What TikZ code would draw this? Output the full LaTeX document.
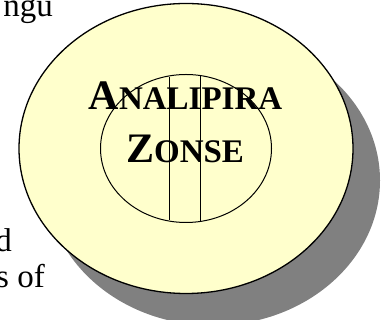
\documentclass[tikz,border=0pt]{standalone}
\usepackage{fontspec}
\setmainfont{Liberation Serif}
\usepackage{tikz}
\usetikzlibrary{calc}
\usepackage{xcolor}
\definecolor{zonefill}{RGB}{255,255,204}
\definecolor{zoneshadow}{RGB}{128,128,128}
\newcommand{\zonesc}[2]{{\fontsize{42}{42}\selectfont #1}{\fontsize{33}{33}\selectfont #2}}
\tikzset{
  outerzone/.style={draw=black,fill=zonefill,line width=1.3pt},
  innerzone/.style={draw=black,line width=1pt},
  zoneshade/.style={fill=zoneshadow},
  chord/.style={draw=black,line width=1pt},
  zonetitle/.style={anchor=base,inner sep=0pt,font=\bfseries},
  pagetext/.style={anchor=base east,inner sep=0pt,font=\fontsize{33}{36}\selectfont}
}
\begin{document}
\begin{tikzpicture}[x=1pt,y=1pt]
  \useasboundingbox (0,0) rectangle (385,320);
  % ellipses
  \coordinate (c) at (186,171.5);
  \fill[zoneshade] ($(c)+(27,-32)$) ellipse [x radius=167, y radius=145];
  \draw[outerzone] (c) ellipse [x radius=167, y radius=145];
  \draw[innerzone] (c) ellipse [x radius=85.5, y radius=74];

  % chords
  \coordinate (ch1t) at (169.3,243.4);
  \coordinate (ch1b) at (169.3,99.6);
  \coordinate (ch2t) at (200.7,244.5);
  \coordinate (ch2b) at (200.7,98.5);
  \draw[chord] (ch1t) -- (ch1b);
  \draw[chord] (ch2t) -- (ch2b);

  % labels
  \node[zonetitle] (title1) at (185.5,210) {\zonesc{A}{NALIPIRA}};
  \node[zonetitle] (title2) at (185,157) {\zonesc{Z}{ONSE}};

  % text cut off at the left
  \node[pagetext] (txtngu) at (53,303) {ngu};
  \node[pagetext] (txtd) at (12,68) {d};
  \node[pagetext] (txtof) at (45,32) {s of};
\end{tikzpicture}
\end{document}
